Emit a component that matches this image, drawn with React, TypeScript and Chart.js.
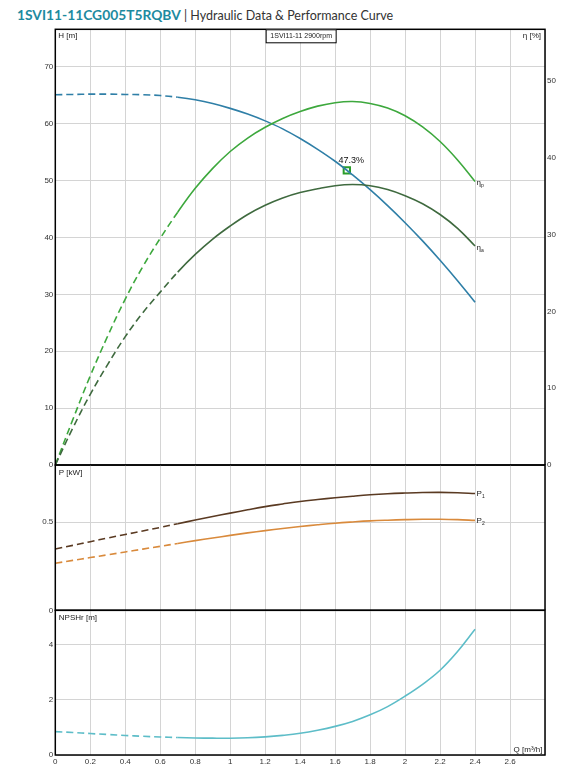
import React, { useEffect, useRef } from 'react';
import { Chart, registerables } from 'chart.js';

Chart.register(...registerables);

// ---------- data ----------
const flowQ = [0, 0.1, 0.2, 0.3, 0.4, 0.5, 0.6, 0.7, 0.8, 0.9, 1.0, 1.1, 1.2, 1.3, 1.4, 1.5, 1.6, 1.7, 1.8, 1.9, 2.0, 2.1, 2.2, 2.3, 2.4];
const headH = [65.1, 65.15, 65.2, 65.2, 65.15, 65.1, 64.95, 64.65, 64.2, 63.55, 62.7, 61.7, 60.5, 59.1, 57.4, 55.5, 53.4, 51.0, 48.4, 45.6, 42.6, 39.4, 36.0, 32.4, 28.6];
const effPump = [0, 5.9, 11.6, 16.8, 21.6, 25.8, 29.5, 32.9, 36.0, 38.6, 40.8, 42.55, 43.95, 45.1, 46.0, 46.7, 47.15, 47.3, 47.05, 46.45, 45.45, 44.0, 42.1, 39.7, 36.9];
const effAggr = [0, 4.8, 9.2, 13.1, 16.7, 19.8, 22.5, 25.1, 27.4, 29.4, 31.1, 32.6, 33.8, 34.75, 35.45, 35.95, 36.35, 36.5, 36.35, 35.85, 35.05, 34.0, 32.6, 30.8, 28.5];
const powerP1 = [0.348, 0.368, 0.389, 0.41, 0.43, 0.45, 0.47, 0.491, 0.512, 0.532, 0.551, 0.57, 0.588, 0.603, 0.617, 0.628, 0.638, 0.647, 0.655, 0.661, 0.665, 0.668, 0.669, 0.667, 0.662];
const powerP2 = [0.267, 0.283, 0.299, 0.315, 0.331, 0.347, 0.363, 0.379, 0.395, 0.41, 0.425, 0.439, 0.452, 0.464, 0.475, 0.485, 0.494, 0.501, 0.507, 0.511, 0.514, 0.516, 0.516, 0.514, 0.51];
const npshR = [0.85, 0.82, 0.78, 0.745, 0.71, 0.68, 0.655, 0.635, 0.62, 0.612, 0.61, 0.625, 0.66, 0.715, 0.79, 0.9, 1.04, 1.22, 1.46, 1.76, 2.14, 2.57, 3.08, 3.76, 4.57];

const bepQ = [1.667];
const bepH = [51.8];
const bepLabel = '47.3%';
const dashEndQ = 0.7;

const qTickLabels = ['0', '0.2', '0.4', '0.6', '0.8', '1', '1.2', '1.4', '1.6', '1.8', '2', '2.2', '2.4', '2.6', ''];

const titleModel = '1SVI11-11CG005T5RQBV';
const titleRest = ' | Hydraulic Data & Performance Curve';
const speedLabel = '1SVI11-11 2900rpm';

// ---------- styling ----------
const FONT = '"Liberation Sans", Arial, sans-serif';
const GRID = '#d4d4d4';
const TICK = '#333333';
const C_H = '#2f7fa7';
const C_EP = '#3da83d';
const C_EA = '#3f6a3f';
const C_P1 = '#5a3a22';
const C_P2 = '#d98a3c';
const C_N = '#5dbdc8';
const C_BEP = '#2a9d2a';

const LEFT_W = 55.3;
const RIGHT_W = 21;

const pts = (ys: number[]) => flowQ.map((q, i) => ({ x: q, y: ys[i] }));

const lineDs = (label: string, ys: number[], color: string, axis: string) => ({
  label,
  data: pts(ys),
  yAxisID: axis,
  borderColor: color,
  backgroundColor: color,
  borderWidth: 1.6,
  pointRadius: 0,
  tension: 0.4,
  borderDash: [] as number[],
  segment: {
    borderDash: (ctx: any) => (ctx.p1.parsed.x <= dashEndQ + 1e-9 ? [7, 4] : undefined),
  },
});

const xScale = (showTicks: boolean) => ({
  type: 'linear' as const,
  min: 0,
  max: 2.8,
  grid: { color: GRID, lineWidth: 1, drawTicks: false },
  border: { display: false },
  ticks: {
    display: showTicks,
    stepSize: 0.2,
    autoSkip: false,
    maxRotation: 0,
    padding: 2,
    color: TICK,
    font: { family: FONT, size: 8 },
    callback: (_v: any, i: number) => qTickLabels[i] ?? '',
  },
  afterFit: (s: any) => {
    s.height = showTicks ? 18 : 0;
  },
});

const yScale = (min: number, max: number, step: number, position: 'left' | 'right', grid: boolean) => ({
  type: 'linear' as const,
  position,
  min,
  max,
  grid: { display: grid, color: GRID, lineWidth: 1, drawTicks: false },
  border: { display: false },
  ticks: {
    stepSize: step,
    includeBounds: false,
    padding: 2,
    color: TICK,
    font: { family: FONT, size: 8 },
  },
  afterFit: (s: any) => {
    s.width = position === 'left' ? LEFT_W : RIGHT_W;
  },
});

function txt(ctx: CanvasRenderingContext2D, s: string, x: number, y: number, align: CanvasTextAlign, size = 8, color = '#222') {
  ctx.font = `${size}px ${FONT}`;
  ctx.fillStyle = color;
  ctx.textAlign = align;
  ctx.textBaseline = 'middle';
  ctx.fillText(s, x, y);
}

function subLabel(ctx: CanvasRenderingContext2D, main: string, sub: string, x: number, y: number) {
  ctx.font = `8px ${FONT}`;
  ctx.fillStyle = '#222';
  ctx.textAlign = 'left';
  ctx.textBaseline = 'middle';
  ctx.fillText(main, x, y);
  const w = ctx.measureText(main).width;
  ctx.font = `5px ${FONT}`;
  ctx.fillText(sub, x + w, y + 3);
}

const framePlugin = (extra: (ctx: CanvasRenderingContext2D, a: any, chart: any) => void) => ({
  id: 'frameAndText',
  afterDraw(chart: any) {
    const { ctx, chartArea: a } = chart;
    ctx.save();
    ctx.strokeStyle = '#000';
    ctx.lineWidth = 1.5;
    ctx.strokeRect(a.left, a.top, a.right - a.left, a.bottom - a.top);
    extra(ctx, a, chart);
    ctx.restore();
  },
});

const baseOptions = (padding: any, scales: any) => ({
  animation: false as const,
  responsive: false,
  events: [] as any[],
  layout: { autoPadding: false, padding },
  plugins: { legend: { display: false }, tooltip: { enabled: false }, title: { display: false } },
  scales,
});

function useChart(ref: React.RefObject<HTMLCanvasElement | null>, make: () => any) {
  useEffect(() => {
    if (!ref.current) return;
    const chart = new Chart(ref.current, make());
    return () => chart.destroy();
  }, []);
}

export default function App() {
  const refA = useRef<HTMLCanvasElement>(null);
  const refB = useRef<HTMLCanvasElement>(null);
  const refC = useRef<HTMLCanvasElement>(null);

  // Top panel: head and efficiencies
  useChart(refA, () => ({
    type: 'line',
    data: {
      datasets: [
        lineDs('ηa', effAggr, C_EA, 'yE'),
        lineDs('ηp', effPump, C_EP, 'yE'),
        lineDs('H', headH, C_H, 'yH'),
        {
          label: 'BEP',
          data: bepQ.map((q, i) => ({ x: q, y: bepH[i] })),
          yAxisID: 'yH',
          showLine: false,
          pointStyle: 'rect',
          pointRadius: 4.5,
          borderWidth: 2,
          borderColor: C_BEP,
          backgroundColor: 'rgba(0,0,0,0)',
        },
      ],
    },
    options: baseOptions(
      { left: 0, right: 0, top: 29.3, bottom: 10 },
      {
        x: xScale(false),
        yH: yScale(0, 76.6, 10, 'left', true),
        yE: yScale(0, 56.7, 10, 'right', false),
      }
    ),
    plugins: [
      framePlugin((ctx, a, chart) => {
        txt(ctx, 'H [m]', a.left + 3, a.top + 6.5, 'left');
        txt(ctx, 'η [%]', a.right - 4, a.top + 6.5, 'right');
        // speed box
        const cx = (a.left + a.right) / 2 + 1;
        const bw = 70;
        ctx.fillStyle = '#fff';
        ctx.fillRect(cx - bw / 2, a.top, bw, 13);
        ctx.strokeStyle = '#000';
        ctx.lineWidth = 1;
        ctx.strokeRect(cx - bw / 2, a.top + 0.5, bw, 13);
        txt(ctx, speedLabel, cx, a.top + 7, 'center', 7, '#222');
        // BEP label
        const xs = chart.scales.x;
        const yH = chart.scales.yH;
        const yE = chart.scales.yE;
        const bx = xs.getPixelForValue(bepQ[0]);
        const by = yH.getPixelForValue(bepH[0]);
        txt(ctx, bepLabel, bx + 4.5, by - 10, 'center', 9, '#111');
        const ex = xs.getPixelForValue(flowQ[flowQ.length - 1]);
        subLabel(ctx, 'η', 'p', ex + 1.5, yE.getPixelForValue(effPump[effPump.length - 1]) + 1.5);
        subLabel(ctx, 'η', 'a', ex + 1.5, yE.getPixelForValue(effAggr[effAggr.length - 1]) + 1.5);
      }),
    ],
  }));

  // Middle panel: power
  useChart(refB, () => ({
    type: 'line',
    data: {
      datasets: [lineDs('P2', powerP2, C_P2, 'yP'), lineDs('P1', powerP1, C_P1, 'yP')],
    },
    options: baseOptions(
      { left: 0, right: RIGHT_W, top: 10, bottom: 9.7 },
      {
        x: xScale(false),
        yP: yScale(0, 0.824, 0.5, 'left', true),
      }
    ),
    plugins: [
      framePlugin((ctx, a, chart) => {
        txt(ctx, 'P [kW]', a.left + 3.5, a.top + 8, 'left');
        const xs = chart.scales.x;
        const yP = chart.scales.yP;
        const ex = xs.getPixelForValue(flowQ[flowQ.length - 1]);
        subLabel(ctx, 'P', '1', ex + 1.5, yP.getPixelForValue(powerP1[powerP1.length - 1]) + 0.5);
        subLabel(ctx, 'P', '2', ex + 1.5, yP.getPixelForValue(powerP2[powerP2.length - 1]) + 0.5);
      }),
    ],
  }));

  // Bottom panel: NPSHr
  useChart(refC, () => ({
    type: 'line',
    data: {
      datasets: [lineDs('NPSHr', npshR, C_N, 'yN')],
    },
    options: baseOptions(
      { left: 0, right: RIGHT_W, top: 10.3, bottom: 0 },
      {
        x: xScale(true),
        yN: yScale(0, 5.26, 2, 'left', true),
      }
    ),
    plugins: [
      framePlugin((ctx, a) => {
        txt(ctx, 'NPSHr [m]', a.left + 3.5, a.top + 7.5, 'left');
        txt(ctx, 'Q [m³/h]', a.right - 2.5, a.bottom - 5.5, 'right');
      }),
    ],
  }));

  return (
    <div style={{ position: 'absolute', left: 0, top: 0, width: 566, height: 773, background: '#fff', overflow: 'hidden' }}>
      <div
        style={{
          position: 'absolute',
          left: 17,
          top: 4,
          whiteSpace: 'nowrap',
          fontFamily: 'Lato, "Open Sans", sans-serif',
          lineHeight: '20px',
        }}
      >
        <span style={{ color: '#1d8aa0', fontWeight: 700, fontSize: 13.8 }}>{titleModel}</span>
        <span style={{ color: '#333', fontSize: 12.5 }}>{titleRest}</span>
      </div>
      <canvas ref={refA} width={566} height={475} style={{ position: 'absolute', left: 0, top: 0 }} />
      <canvas ref={refB} width={566} height={165} style={{ position: 'absolute', left: 0, top: 455 }} />
      <canvas ref={refC} width={566} height={173} style={{ position: 'absolute', left: 0, top: 600 }} />
    </div>
  );
}
